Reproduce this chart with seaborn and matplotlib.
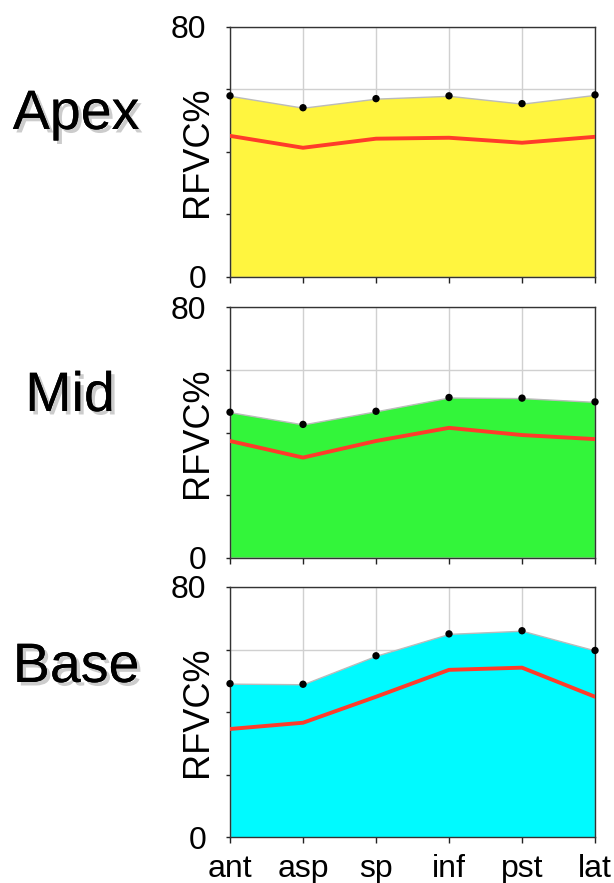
import matplotlib
matplotlib.use("Agg")
import matplotlib.pyplot as plt
import matplotlib.patheffects as pe
import numpy as np
import seaborn as sns

SEGMENTS = ["ant", "asp", "sp", "inf", "pst", "lat"]
LEVELS = ["Apex", "Mid", "Base"]

# upper (filled) curve, dots
apex_upper = [57.9, 54.1, 57.0, 57.9, 55.4, 58.2]
mid_upper = [46.5, 42.6, 46.8, 51.2, 51.0, 49.8]
base_upper = [49.1, 48.9, 58.0, 65.0, 66.0, 59.7]

# mean (red) curve
apex_mean = [45.1, 41.3, 44.2, 44.5, 42.9, 44.8]
mid_mean = [37.3, 32.0, 37.3, 41.5, 39.2, 37.9]
base_mean = [34.6, 36.6, 44.9, 53.5, 54.2, 44.9]

FILL_COLORS = ["#FFF53F", "#33F53A", "#00FAFF"]
RED = "#FF3B2A"

sns.set_theme(style="white")
plt.rcParams["font.family"] = ["Liberation Sans", "DejaVu Sans"]
plt.rcParams["text.color"] = "black"
plt.rcParams["axes.labelcolor"] = "black"
plt.rcParams["xtick.color"] = "black"
plt.rcParams["ytick.color"] = "black"

fig = plt.figure(figsize=(6.14, 8.83), dpi=100)

ax_left, ax_w, ax_h = 0.3746, 0.5945, 0.2835
bottoms = [0.6863, 0.3684, 0.0518]
label_y = [115, 397, 668]
label_x = [76, 70, 76]

uppers = [apex_upper, mid_upper, base_upper]
means = [apex_mean, mid_mean, base_mean]
x = np.arange(len(SEGMENTS))

for i, level in enumerate(LEVELS):
    ax = fig.add_axes([ax_left, bottoms[i], ax_w, ax_h])
    ax.set_axisbelow(True)
    ax.grid(True, color="#D0D0D0", linewidth=1)

    ax.fill_between(x, 0, uppers[i], color=FILL_COLORS[i], zorder=2,
                    edgecolor="#BBBBBB", linewidth=1)
    sns.lineplot(x=x, y=means[i], ax=ax, color=RED, linewidth=2.8, zorder=3)
    sns.scatterplot(x=x, y=uppers[i], ax=ax, color="black", s=28,
                    edgecolor="none", zorder=4, clip_on=False)

    ax.set_xlim(0, 5)
    ax.set_ylim(0, 80)
    ax.set_yticks([0, 20, 40, 60, 80])
    ax.set_yticklabels(["0", "", "", "", "80"], fontsize=23)
    ax.set_xticks(x)
    if i == 2:
        ax.set_xticklabels(SEGMENTS, fontsize=23)
    else:
        ax.set_xticklabels([])
    ax.tick_params(axis="y", length=3, width=1, pad=14, color="#222222",
                   left=True)
    ax.tick_params(axis="x", length=4, width=1, pad=8, color="#222222",
                   bottom=True)
    for side in ["left", "right", "top", "bottom"]:
        ax.spines[side].set_color("#333333")
        ax.spines[side].set_linewidth(1)
    ax.set_ylabel("RFVC%", fontsize=26)
    ax.yaxis.set_label_coords(-0.042, 0.5)

    fig.text(label_x[i] / 614, 1 - label_y[i] / 883, level, fontsize=40,
             ha="center", va="center",
             path_effects=[pe.withSimplePatchShadow(offset=(2.5, -2.5),
                                                    shadow_rgbFace="#AAAAAA",
                                                    alpha=0.6),
                           pe.Normal()])

fig.savefig("out.png", dpi=100)
